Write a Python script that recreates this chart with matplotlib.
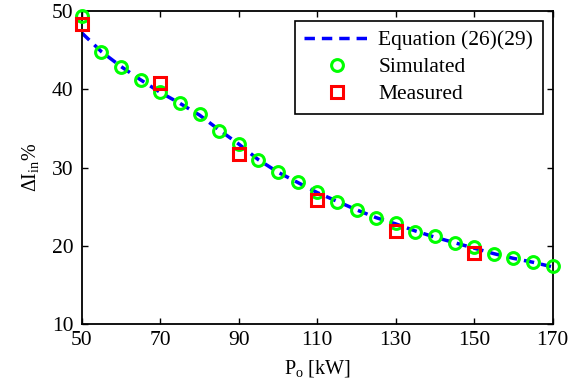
import matplotlib as mpl
mpl.use('Agg')
import matplotlib.pyplot as plt
import numpy as np

plt.rcParams['font.family'] = 'Liberation Serif'
plt.rcParams['mathtext.fontset'] = 'custom'
plt.rcParams['mathtext.rm'] = 'Liberation Serif'
plt.rcParams['mathtext.it'] = 'Liberation Serif:italic'

# output power [kW]
power = np.arange(50, 171, 5)
# equation (26)(29) curve
eq_vals = [47.2, 44.8, 42.9, 41.2, 39.6, 38.2, 36.7, 34.8, 33.0, 31.0, 29.4, 28.1, 26.8,
           25.7, 24.6, 23.6, 22.8, 21.9, 21.1, 20.4, 19.7, 19.0, 18.4, 17.9, 17.3]
# simulated points
sim_vals = [49.4, 44.7, 42.9, 41.2, 39.7, 38.3, 36.8, 34.7, 33.0, 31.0, 29.4, 28.1, 26.9,
            25.6, 24.6, 23.5, 22.9, 21.8, 21.2, 20.4, 19.8, 19.0, 18.4, 17.9, 17.4]
# measured points
meas_power = [50, 70, 90, 110, 130, 150]
meas_vals = [48.3, 40.8, 31.7, 25.8, 21.9, 19.1]

fig = plt.figure(figsize=(5.8, 3.91), dpi=100)
ax = fig.add_axes([0.141, 0.171, 0.812, 0.801])

ax.plot(power, eq_vals, color='blue', linestyle=(0, (3, 2)), linewidth=2.5,
        label='Equation (26)(29)', zorder=2)
ax.plot(power, sim_vals, linestyle='none', marker='o', markersize=8.5,
        markerfacecolor='none', markeredgecolor='#00ff00', markeredgewidth=2.2,
        label='Simulated', zorder=3, clip_on=False)
ax.plot(meas_power, meas_vals, linestyle='none', marker='s', markersize=8,
        markerfacecolor='none', markeredgecolor='red', markeredgewidth=2.2,
        label='Measured', zorder=4, clip_on=False)

ax.set_xlim(50, 170)
ax.set_ylim(10, 50)
ax.set_xticks(np.arange(50, 171, 20))
ax.set_yticks(np.arange(10, 51, 10))
ax.tick_params(direction='in', top=True, right=True, labelsize=15.5, length=4, width=1)
ax.tick_params(axis='x', pad=5)
ax.tick_params(axis='y', pad=6)
for s in ax.spines.values():
    s.set_linewidth(1.3)

ax.set_xlabel(r'P$_{\rm o}$ [kW]', fontsize=14.5, labelpad=6)
ax.set_ylabel(r'$\Delta$I$_{\rm in}$%', fontsize=14.5, labelpad=8)

leg = ax.legend(loc='upper right', fontsize=15.5, frameon=True, fancybox=False,
                edgecolor='black', framealpha=1, borderaxespad=0.45,
                handlelength=3.0, handletextpad=0.45, labelspacing=0.32, borderpad=0.45)
leg.get_frame().set_linewidth(1.2)

fig.savefig('out.png', dpi=100)
